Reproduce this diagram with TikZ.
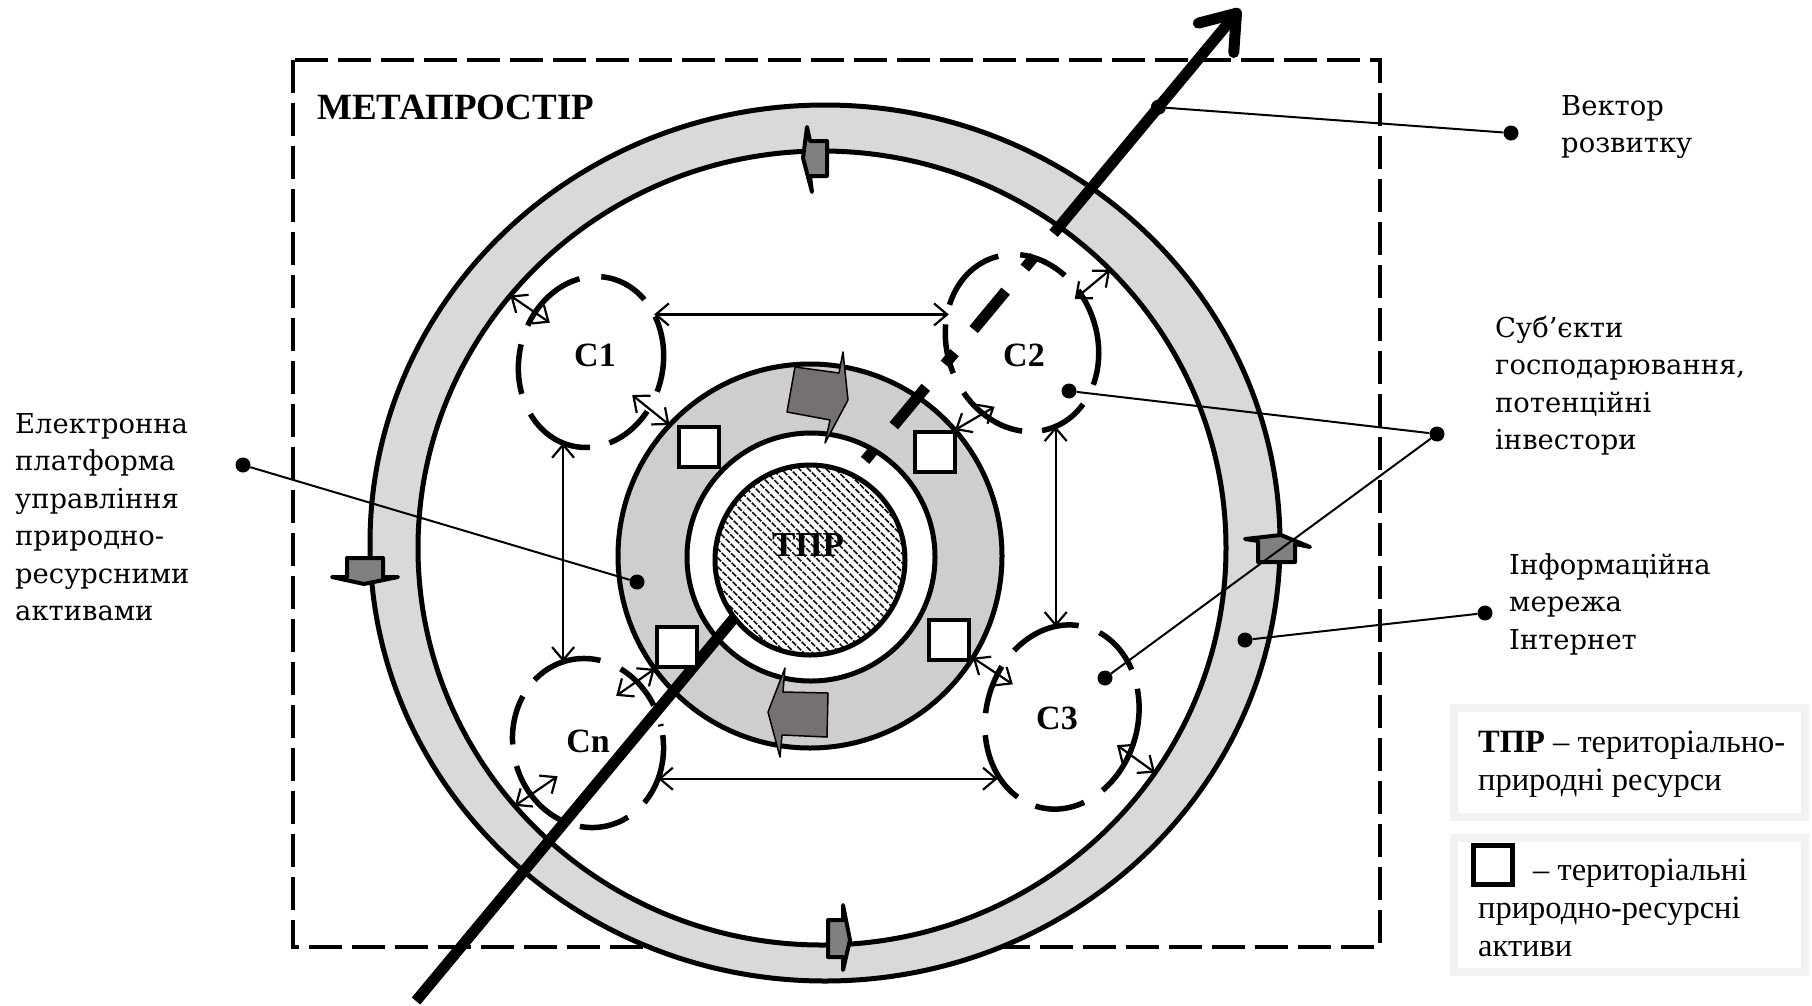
\documentclass[tikz,border=0pt]{standalone}
\usepackage{fontspec}
\setmainfont{Liberation Serif}
\newfontfamily\labelfont{DejaVu Serif}
\usetikzlibrary{shapes.geometric,arrows.meta,patterns.meta,calc}
\definecolor{ringgray}{HTML}{D9D9D9}
\definecolor{platgray}{HTML}{CFCDCD}
\definecolor{flowgray}{HTML}{767171}
\definecolor{netgray}{HTML}{808080}
\definecolor{leggray}{HTML}{F2F2F2}
\tikzset{
	heavy/.style={line width=5pt},
	disc/.style={draw,heavy,inner sep=0pt,outer sep=0pt},
	blob/.style={ellipse,draw,line width=5.5pt,inner sep=0pt,outer sep=0pt,dash pattern=on 72pt off 20pt on 50pt off 22pt},
	asset/.style={draw,fill=white,line width=4.5pt,minimum size=40pt,inner sep=0pt},
	link/.style={{Straight Barb[length=13pt,width=22pt]}-{Straight Barb[length=13pt,width=22pt]},line width=2.2pt},
	lead/.style={line width=2pt},
	dot/.style={circle,fill,inner sep=0pt,minimum size=15pt},
	cname/.style={font=\bfseries\fontsize{34}{40}\selectfont,inner sep=0pt},
	note/.style={font=\labelfont\fontsize{27.4}{37.5}\selectfont,align=left,anchor=base west,inner sep=0pt},
	legtext/.style={font=\fontsize{32.5}{38}\selectfont,align=left,anchor=base west,inner sep=0pt},
	netarrow/.style={fill=netgray,draw=black,line width=4pt,line join=round},
	flowarrow/.style={fill=flowgray,draw=black,line width=1.5pt,line join=round},
	vector/.style={line width=11pt}
}
\begin{document}
\begin{tikzpicture}[x=1pt,y=-1pt]
	\useasboundingbox (0,0) rectangle (1812,1005);
	\draw[line width=3.3pt,dash pattern=on 33pt off 10pt] (293,60) rectangle (1380,947);
	\node[font=\bfseries\fontsize{37}{40}\selectfont,anchor=base west,inner sep=0pt] (meta) at (317,119) {МЕТАПРОСТІР};

	\node[ellipse,disc,fill=ringgray,minimum width=910pt,minimum height=876pt] (neto) at (825,543) {};
	\node[ellipse,disc,fill=white,minimum width=808pt,minimum height=794pt] (neti) at (822,548) {};
	\filldraw[netarrow] (827,141) -- (810,141) -- (807,127) -- (803,158) -- (812,192) -- (810,176) -- (827,176) -- cycle;
	\filldraw[netarrow] (828,920) -- (843,920) -- (843,905) -- (850,940) -- (843,970) -- (843,957) -- (828,957) -- cycle;
	\filldraw[netarrow] (347,558) -- (383,558) -- (383,577) -- (398,577) -- (364,584) -- (332,577) -- (347,577) -- cycle;
	\filldraw[netarrow] (1258,562) -- (1295,562) -- (1295,544) -- (1310,547) -- (1281,535) -- (1245,539) -- (1258,541) -- cycle;

	\node[circle,disc,fill=platgray,minimum size=384pt] (plat) at (810,556) {};
	\node[circle,disc,fill=white,minimum size=248pt] (hole) at (811,557) {};
	\coordinate (vbot) at (416,1001);
	\coordinate (vtip) at (1240,9);
	\draw[vector] (vbot) -- ($(vbot)!0.45!(vtip)$);
	\node[circle,disc,minimum size=190pt,preaction={fill=white},pattern={Lines[angle=-45,distance=6.5pt,line width=1.9pt]}] (tpr) at (810,560) {};
	\node[cname,font=\bfseries\fontsize{35}{40}\selectfont] (tprlbl) at (808,545) {ТПР};

	\node[asset] (sq1) at (699,447) {};
	\node[asset] (sq2) at (935,452) {};
	\node[asset] (sq3) at (677,647) {};
	\node[asset] (sq4) at (949,640) {};
	\filldraw[flowarrow] (787,412) -- (795,367) -- (839,373) -- (843,352) -- (848,400) -- (825,443) -- (830,420) -- cycle;
	\filldraw[flowarrow] (828,693) -- (827,737) -- (782,735) -- (780,757) -- (768,712) -- (785,668) -- (783,692) -- cycle;

	\node[blob,rotate=-12,minimum width=144pt,minimum height=172pt,dash phase=10pt] (c1) at (591,362) {};
	\node[blob,rotate=19,minimum width=150pt,minimum height=180pt,dash phase=40pt] (c2) at (1022,343) {};
	\node[blob,rotate=13,minimum width=150pt,minimum height=170pt,dash phase=70pt] (cn) at (588,743) {};
	\node[blob,rotate=-14,minimum width=152pt,minimum height=186pt,dash phase=25pt] (c3) at (1062,717) {};
	\node[cname] (c1lbl) at (595,355) {С1};
	\node[cname] (c2lbl) at (1024,355) {С2};
	\node[cname] (cnlbl) at (588,741) {Сn};
	\node[cname] (c3lbl) at (1057,718) {С3};

	\draw[link] (c1.49) -- (c1.49 -| c2.135);
	\draw[link] (c1.263) -- (c1.263 |- cn.94);
	\draw[link] (c2.273) -- (c2.273 |- c3.109);
	\draw[link] (cn.320) -- (cn.320 -| c3.236);
	\draw[link] (neti.141) -- ($(neti.141)!48pt!5:(c1)$);
	\draw[link] (plat.137) -- ($(plat.137)!48pt!(c1)$);
	\draw[link] (neti.44) -- ($(neti.44)!46pt!(c2)$);
	\draw[link] (plat.41) -- ($(plat.41)!46pt!-22:(c2)$);
	\draw[link] (plat.216) -- ($(plat.216)!47pt!-13:(cn)$);
	\draw[link] (neti.220) -- ($(neti.220)!52pt!-6:(cn)$);
	\draw[link] (plat.328) -- ($(plat.328)!48pt!(c3)$);
	\draw[link] (neti.326) -- ($(neti.326)!47pt!-5:(c3)$);

	\draw[vector,dash pattern=on 15pt off 30pt on 50pt off 30pt] ($(vbot)!0.545!(vtip)$) -- ($(vbot)!0.787!(vtip)$);
	\draw[vector,-{Straight Barb[length=32pt,width=46pt,round]}] ($(vbot)!0.787!(vtip)$) -- (vtip);

	\node[dot] (vdot) at ($(vbot)!0.901!(vtip)$) {};
	\node[dot] (vend) at (1511,133) {};
	\node[dot] (c2dot) at (1069,391) {};
	\node[dot] (c3dot) at (1105,678) {};
	\node[dot] (send) at (1437,434) {};
	\node[dot] (netdot) at (1245,640) {};
	\node[dot] (iend) at (1485,613) {};
	\node[dot] (platdot) at (637,582) {};
	\node[dot] (pend) at (243,465) {};
	\draw[lead] (vdot) -- (vend);
	\draw[lead] (c2dot) -- (send) -- (c3dot);
	\draw[lead] (netdot) -- (iend);
	\draw[lead] (platdot) -- (pend);

	\node[note] (vlbl) at (1561,152.5) {Вектор\\розвитку};
	\node[note] (slbl) at (1495,449.5) {Суб’єкти\\господарювання,\\потенційні\\інвестори};
	\node[note] (ilbl) at (1509,649) {Інформаційна\\мережа\\Інтернет};
	\node[note] (plbl) at (15,620.5) {Електронна\\платформа\\управління\\природно-\\ресурсними\\активами};

	\draw[leggray,line width=8pt] (1454,708) rectangle (1805,817);
	\draw[leggray,line width=8pt] (1454,838) rectangle (1805,972);
	\node[legtext] (leg1) at (1478,790) {\textbf{ТПР} – територіально-\\природні ресурси};
	\node[asset,line width=5pt,minimum size=39pt] (legsq) at (1493,864.5) {};
	\node[legtext] (leg2) at (1478,956) {\hspace*{55pt}– територіальні\\природно-ресурсні\\активи};
\end{tikzpicture}
\end{document}
